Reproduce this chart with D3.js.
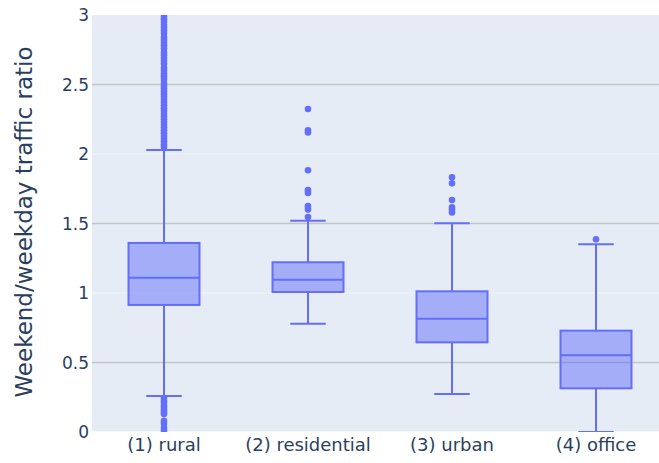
<!DOCTYPE html>
<html>
<head>
<meta charset="utf-8">
<script src="https://cdn.jsdelivr.net/npm/d3@7"></script>
<style>
  html, body { margin: 0; padding: 0; background: #fff; }
  svg text { font-family: "DejaVu Sans", Verdana, sans-serif; fill: #2a3f5f; }
</style>
</head>
<body>
<svg id="chart" width="659" height="463"></svg>
<script>
// Weekend/weekday traffic ratio by area type (box summaries + outliers)
const categories = ["(1) rural", "(2) residential", "(3) urban", "(4) office"];
const lowerFence = [0.259, 0.779, 0.273, 0.0];
const q1 = [0.914, 1.007, 0.645, 0.314];
const median = [1.11, 1.096, 0.815, 0.552];
const q3 = [1.36, 1.221, 1.012, 0.729];
const upperFence = [2.029, 1.52, 1.501, 1.35];

const outliersRural = [
  0.01, 0.03, 0.06, 0.08, 0.13, 0.14, 0.155, 0.175, 0.19, 0.21, 0.225, 0.245,
  2.05, 2.07, 2.09, 2.11, 2.13, 2.15, 2.17, 2.19, 2.21, 2.23, 2.25, 2.27, 2.29,
  2.31, 2.33, 2.35, 2.37, 2.39, 2.41, 2.43, 2.45, 2.47, 2.49, 2.51, 2.54, 2.56,
  2.58, 2.60, 2.62, 2.65, 2.67, 2.69, 2.71, 2.73, 2.76, 2.78, 2.80, 2.82, 2.84,
  2.87, 2.89, 2.91, 2.93, 2.95, 2.97, 2.99, 3.02, 3.05
];
const outliersResidential = [1.547, 1.60, 1.625, 1.72, 1.74, 1.883, 2.155, 2.17, 2.324];
const outliersUrban = [1.58, 1.60, 1.617, 1.669, 1.789, 1.832];
const outliersOffice = [1.386];
const outliers = [outliersRural, outliersResidential, outliersUrban, outliersOffice];

const yTicks = [0, 0.5, 1, 1.5, 2, 2.5, 3];
const yTitle = "Weekend/weekday traffic ratio";

const color = "#636efa";
const svg = d3.select("#chart");
const plot = { left: 92, right: 659, top: 15, bottom: 432 };

const x = d3.scaleBand().domain(categories).range([plot.left, plot.left + 576]).padding(0);
const y = d3.scaleLinear().domain([0, 3]).range([plot.bottom, plot.top]);

svg.append("clipPath").attr("id", "plotclip")
  .append("rect")
  .attr("x", plot.left).attr("y", plot.top)
  .attr("width", plot.right - plot.left).attr("height", plot.bottom - plot.top);

svg.append("rect")
  .attr("x", plot.left).attr("y", plot.top)
  .attr("width", plot.right - plot.left).attr("height", plot.bottom - plot.top)
  .attr("fill", "#e5ecf6");

// horizontal grid: half-step lines darker than whole-number lines
svg.append("g").selectAll("line")
  .data(yTicks.filter(t => t > 0 && t < 3))
  .join("line")
  .attr("x1", plot.left).attr("x2", plot.right)
  .attr("y1", d => y(d)).attr("y2", d => y(d))
  .attr("stroke", d => (d % 1 === 0 ? "#f4f6fa" : "#c4c5c8"))
  .attr("stroke-width", d => (d % 1 === 0 ? 1.2 : 1.6));

// zero line
svg.append("line")
  .attr("x1", plot.left).attr("x2", plot.right)
  .attr("y1", y(0)).attr("y2", y(0))
  .attr("stroke", "#ffffff").attr("stroke-width", 1.5);

// y tick labels
svg.append("g").selectAll("text")
  .data(yTicks)
  .join("text")
  .attr("x", plot.left - 3)
  .attr("y", d => y(d))
  .attr("dy", "0.36em")
  .attr("text-anchor", "end")
  .attr("font-size", 17)
  .text(d => d3.format("")(d));

// x tick labels
svg.append("g").selectAll("text")
  .data(categories)
  .join("text")
  .attr("x", d => x(d) + x.bandwidth() / 2)
  .attr("y", 451)
  .attr("text-anchor", "middle")
  .attr("font-size", 18)
  .text(d => d);

// y axis title
svg.append("text")
  .attr("transform", `translate(24, 222) rotate(-90)`)
  .attr("dy", "0.36em")
  .attr("text-anchor", "middle")
  .attr("font-size", 23)
  .text(yTitle);

const g = svg.append("g").attr("clip-path", "url(#plotclip)");
const boxW = x.bandwidth() * 0.493;
const capW = boxW / 2;

categories.forEach((c, i) => {
  const cx = x(c) + x.bandwidth() / 2;
  const grp = g.append("g");

  // whiskers
  grp.append("line")
    .attr("x1", cx).attr("x2", cx)
    .attr("y1", y(q3[i])).attr("y2", y(upperFence[i]))
    .attr("stroke", color).attr("stroke-width", 2);
  grp.append("line")
    .attr("x1", cx).attr("x2", cx)
    .attr("y1", y(q1[i])).attr("y2", y(lowerFence[i]))
    .attr("stroke", color).attr("stroke-width", 2);
  [upperFence[i], lowerFence[i]].forEach(v => {
    grp.append("line")
      .attr("x1", cx - capW / 2).attr("x2", cx + capW / 2)
      .attr("y1", y(v)).attr("y2", y(v))
      .attr("stroke", color).attr("stroke-width", 2);
  });

  // box
  grp.append("rect")
    .attr("x", cx - boxW / 2).attr("width", boxW)
    .attr("y", y(q3[i])).attr("height", y(q1[i]) - y(q3[i]))
    .attr("fill", "rgba(99,110,250,0.5)")
    .attr("stroke", color).attr("stroke-width", 2);
  grp.append("line")
    .attr("x1", cx - boxW / 2).attr("x2", cx + boxW / 2)
    .attr("y1", y(median[i])).attr("y2", y(median[i]))
    .attr("stroke", color).attr("stroke-width", 2);

  // outliers
  grp.append("g").selectAll("circle")
    .data(outliers[i])
    .join("circle")
    .attr("cx", cx).attr("cy", d => y(d))
    .attr("r", 3.3)
    .attr("fill", color);
});
</script>
</body>
</html>
